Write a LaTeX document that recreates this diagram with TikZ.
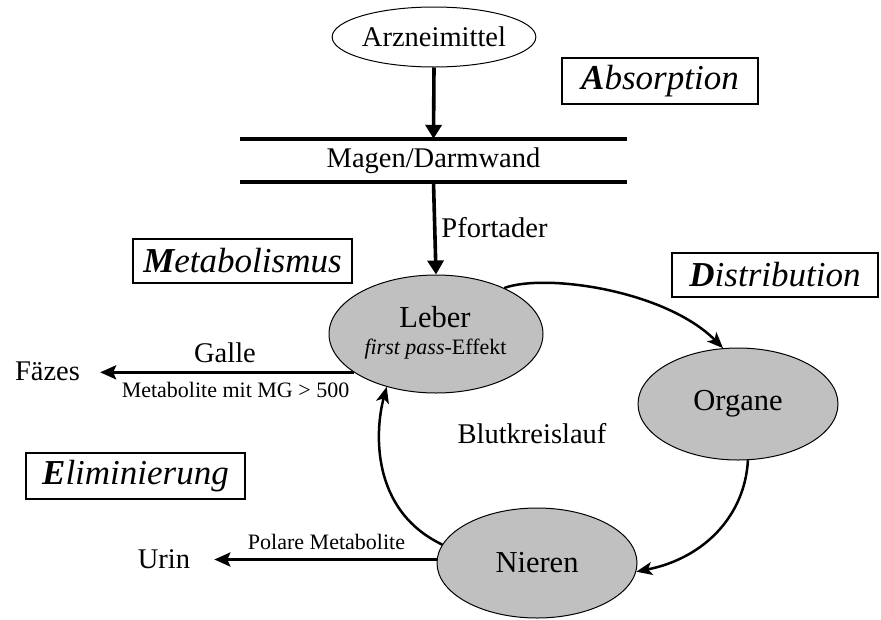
\documentclass[tikz,border=0pt]{standalone}
\usepackage{fontspec}
\setmainfont{Liberation Serif}
\usetikzlibrary{shapes.geometric,arrows.meta}
\newcommand\fsnorm{\fontsize{28.5}{34}\selectfont}
\newcommand\fsorgan{\fontsize{30.5}{36}\selectfont}
\newcommand\fssmall{\fontsize{22}{26}\selectfont}
\newcommand\fsbig{\fontsize{35}{42}\selectfont}
\definecolor{organgray}{HTML}{C0C0C0}
\begin{document}
\begin{tikzpicture}[x=1pt,y=-1pt,
  every node/.style={inner sep=0pt, font=\fsnorm},
  organ/.style={ellipse, draw=black, line width=1pt, fill=organgray, inner sep=0pt},
  phasebox/.style={draw=black, line width=1.6pt, font=\fsbig\itshape},
  wall/.style={line width=4pt},
  thickarr/.style={line width=3.6pt, -{Triangle[length=14pt,width=16pt]}},
  sidearr/.style={line width=3pt, -{Stealth[length=16pt,width=14pt,inset=3pt]}},
  circarr/.style={line width=2.5pt, -{Stealth[length=16pt,width=13pt,inset=4pt]}},
  lbl/.style={anchor=base}
]
\path[use as bounding box] (0,0) rectangle (881,619);

% top part
\node[ellipse, draw=black, line width=1pt, minimum width=178pt, minimum height=60pt] (arz) at (434,37) {Arzneimittel};
\node[minimum width=387pt, minimum height=43pt] (magen) at (433.5,160.5) {Magen/Darmwand};
\draw[wall] (magen.north west) -- (magen.north east);
\draw[wall] (magen.south west) -- (magen.south east);

% phase boxes
\node[phasebox, minimum width=196pt, minimum height=46pt] (absorp) at (660,81) {\textbf{A}bsorption};
\node[phasebox, minimum width=206pt, minimum height=44pt] (distr) at (775,275) {\textbf{D}istribution};
\node[phasebox, minimum width=219pt, minimum height=44pt] (metab) at (242.5,261) {\textbf{M}etabolismus};
\node[phasebox, minimum width=219pt, minimum height=46pt] (elim) at (135.5,476) {\textbf{E}liminierung};

% organs
\node[organ, minimum width=214pt, minimum height=118pt] (leber) at (436,334) {};
\node[lbl, font=\fsorgan] (lebertxt) at (435,327) {Leber};
\node[lbl, font=\fssmall] (fpe) at (435.5,354) {\textit{first pass}-Effekt};
\node[organ, minimum width=200pt, minimum height=112pt, font=\fsorgan] (organe) at (738,404) {Organe};
\node[organ, minimum width=200pt, minimum height=110pt, font=\fsorgan] (nieren) at (537,563) {Nieren};

% texts
\node[lbl] (pfort) at (494.5,237) {Pfortader};
\node[lbl] (faezes) at (47.5,380) {Fäzes};
\node[lbl] (galle) at (225,362) {Galle};
\node[lbl, font=\fssmall] (mg) at (235.5,397) {Metabolite mit MG > 500};
\node[lbl] (urin) at (164,568) {Urin};
\node[lbl, font=\fssmall] (polar) at (326.5,549) {Polare Metabolite};
\node[lbl] (blut) at (532,443) {Blutkreislauf};

% connectors
\draw[thickarr] (arz.south) -- (magen.north);
\draw[thickarr] (magen.south) -- (leber.north);
\draw[sidearr, shorten >=20pt] (leber.205) -- (leber.205 -| faezes.east);
\draw[sidearr, shorten >=24pt] (nieren.178) -- (nieren.178 -| urin.east);
\draw[circarr] (leber.34.5) .. controls (545,273) and (665,290) .. (organe.105.5);
\draw[circarr] (organe.-80) .. controls (745,515) and (705,558) .. (nieren.-5);
\draw[circarr] (nieren.169) .. controls (370,510) and (375,430) .. (leber.227);
\end{tikzpicture}
\end{document}
